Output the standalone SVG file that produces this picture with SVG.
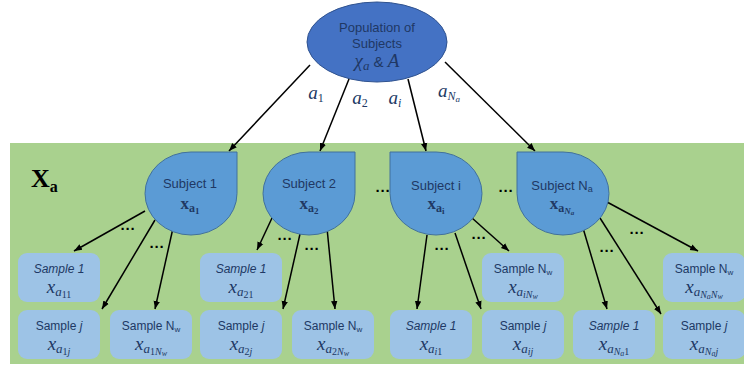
<svg xmlns="http://www.w3.org/2000/svg" width="744" height="367" viewBox="0 0 744 367">
<style>
.lbl{font-family:"Liberation Sans","Open Sans",sans-serif;fill:#203864;text-anchor:middle}
.m{font-family:"Liberation Serif","DejaVu Serif",serif;font-style:italic;fill:#203864;text-anchor:middle}
.mb{font-family:"Liberation Serif","DejaVu Serif",serif;font-weight:bold;fill:#203864;text-anchor:middle}
.up{font-style:normal}
.subj{fill:#5b9bd5;stroke:#41719c;stroke-width:1}
.smp{fill:#9dc3e6;stroke:none}
.con line{stroke:#000;stroke-width:1.5;marker-end:url(#ah)}
.dots{font-family:"Liberation Sans",sans-serif;font-weight:bold;font-size:15px;fill:#000;text-anchor:middle}
</style>
<defs>
<marker id="ah" viewBox="0 0 10 10" refX="10" refY="5" markerWidth="8" markerHeight="8" markerUnits="userSpaceOnUse" orient="auto">
<path d="M0,1 L10,5 L0,9 z" fill="#000"/>
</marker>
</defs>
<rect x="10" y="143" width="740" height="221" fill="#a9d18e"/>
<text x="31" y="187" font-family="Liberation Serif,serif" font-weight="bold" font-size="26" fill="#000">X<tspan font-size="16" dy="5">a</tspan></text>

<g id="population">
<ellipse cx="377" cy="42" rx="70" ry="40" fill="#4472c4" stroke="#2f528f" stroke-width="1"/>
<text class="lbl" x="377" y="32" font-size="13">Population of</text>
<text class="lbl" x="377" y="48" font-size="13">Subjects</text>
<text x="377" y="67" class="lbl" font-size="15"><tspan class="m" font-size="19">χ</tspan><tspan class="m" font-size="13" dy="3">a</tspan><tspan dy="-3" font-size="15"> &amp; </tspan><tspan class="m" font-size="19">A</tspan></text>
</g>

<g class="con">
<line x1="310" y1="65" x2="229" y2="151"/>
<line x1="349" y1="79" x2="320" y2="151"/>
<line x1="408" y1="79" x2="426" y2="151"/>
<line x1="445" y1="62" x2="535" y2="151"/>
<line x1="145" y1="211" x2="74" y2="251"/>
<line x1="155" y1="220" x2="102" y2="309"/>
<line x1="173" y1="228" x2="155" y2="309"/>
<line x1="272" y1="218" x2="257" y2="250"/>
<line x1="300" y1="234" x2="283" y2="309"/>
<line x1="327" y1="228" x2="335" y2="309"/>
<line x1="427" y1="235" x2="417" y2="309"/>
<line x1="455" y1="233" x2="481" y2="309"/>
<line x1="472" y1="218" x2="509" y2="251"/>
<line x1="583" y1="228" x2="607" y2="309"/>
<line x1="600" y1="218" x2="661" y2="314"/>
<line x1="607" y1="202" x2="698" y2="251"/>
</g>
<g id="arrow-labels">
<text class="m" x="316" y="99" font-size="19">a<tspan class="up" font-size="12" dy="3">1</tspan></text>
<text class="m" x="360" y="104" font-size="19">a<tspan class="up" font-size="12" dy="3">2</tspan></text>
<text class="m" x="395" y="104" font-size="19">a<tspan font-size="12" dy="3">i</tspan></text>
<text class="m" x="449" y="97" font-size="19">a<tspan font-size="12" dy="3">N</tspan><tspan font-size="9" dy="2">a</tspan></text>
</g>
<g id="dots">
<text class="dots" x="128" y="234">···</text>
<text class="dots" x="157" y="252">···</text>
<text class="dots" x="285" y="244">···</text>
<text class="dots" x="312" y="254">···</text>
<text class="dots" x="383" y="196">···</text>
<text class="dots" x="506" y="196">···</text>
<text class="dots" x="442" y="254">···</text>
<text class="dots" x="479" y="243">···</text>
<text class="dots" x="607" y="256">···</text>
<text class="dots" x="637" y="238">···</text>
</g>

<g id="subject1">
<path class="subj" d="M191,152 L237,152 L237,193.5 A46,41.5 0 1 1 191,152 Z"/>
<text class="lbl" x="190" y="188" font-size="13">Subject 1</text>
<text class="mb" x="190" y="209" font-size="17">x<tspan font-size="12" dy="3">a</tspan><tspan font-size="9" dy="2">1</tspan></text>
</g>
<g id="subject2">
<path class="subj" d="M309,152 L355,152 L355,193.5 A46,41.5 0 1 1 309,152 Z"/>
<text class="lbl" x="309" y="188" font-size="13">Subject 2</text>
<text class="mb" x="309" y="209" font-size="17">x<tspan font-size="12" dy="3">a</tspan><tspan font-size="9" dy="2">2</tspan></text>
</g>
<g id="subjecti">
<path class="subj" d="M436,152 L390,152 L390,193.5 A46,41.5 0 1 0 436,152 Z"/>
<text class="lbl" x="436" y="190" font-size="13">Subject i</text>
<text class="mb" x="436" y="209" font-size="17">x<tspan font-size="12" dy="3">a</tspan><tspan font-size="9" dy="2">i</tspan></text>
</g>
<g id="subjectNa">
<path class="subj" d="M563,152 L517,152 L517,193.5 A46,41.5 0 1 0 563,152 Z"/>
<text class="lbl" x="562" y="190" font-size="13">Subject N<tspan font-size="9" dy="2">a</tspan></text>
<text class="mb" x="562" y="209" font-size="17">x<tspan font-size="12" dy="3">a</tspan><tspan font-size="9" dy="2" font-style="italic">N</tspan><tspan font-size="7" dy="1" font-style="italic">a</tspan></text>
</g>

<g id="s1-1">
<rect class="smp" x="18" y="253" width="82" height="49" rx="9"/>
<text class="lbl" x="59" y="273" font-size="12" font-style="italic">Sample 1</text>
<text class="m" x="59" y="293" font-size="19">x<tspan font-size="13" dy="3">a</tspan><tspan class="up" font-size="10" dy="2">11</tspan></text>
</g>
<g id="s1-j">
<rect class="smp" x="18" y="310" width="82" height="49" rx="9"/>
<text class="lbl" x="59" y="330" font-size="12">Sample <tspan font-style="italic">j</tspan></text>
<text class="m" x="59" y="350" font-size="19">x<tspan font-size="13" dy="3">a</tspan><tspan class="up" font-size="10" dy="2">1</tspan><tspan font-size="10">j</tspan></text>
</g>
<g id="s1-Nw">
<rect class="smp" x="110" y="310" width="82" height="49" rx="9"/>
<text class="lbl" x="151" y="330" font-size="12">Sample N<tspan font-size="8" dy="2">w</tspan></text>
<text class="m" x="151" y="350" font-size="19">x<tspan font-size="13" dy="3">a</tspan><tspan class="up" font-size="10" dy="2">1</tspan><tspan font-size="10">N</tspan><tspan font-size="8" dy="1">w</tspan></text>
</g>
<g id="s2-1">
<rect class="smp" x="200" y="253" width="82" height="49" rx="9"/>
<text class="lbl" x="241" y="273" font-size="12" font-style="italic">Sample 1</text>
<text class="m" x="241" y="293" font-size="19">x<tspan font-size="13" dy="3">a</tspan><tspan class="up" font-size="10" dy="2">21</tspan></text>
</g>
<g id="s2-j">
<rect class="smp" x="200" y="310" width="82" height="49" rx="9"/>
<text class="lbl" x="241" y="330" font-size="12">Sample <tspan font-style="italic">j</tspan></text>
<text class="m" x="241" y="350" font-size="19">x<tspan font-size="13" dy="3">a</tspan><tspan class="up" font-size="10" dy="2">2</tspan><tspan font-size="10">j</tspan></text>
</g>
<g id="s2-Nw">
<rect class="smp" x="292" y="310" width="82" height="49" rx="9"/>
<text class="lbl" x="333" y="330" font-size="12">Sample N<tspan font-size="8" dy="2">w</tspan></text>
<text class="m" x="333" y="350" font-size="19">x<tspan font-size="13" dy="3">a</tspan><tspan class="up" font-size="10" dy="2">2</tspan><tspan font-size="10">N</tspan><tspan font-size="8" dy="1">w</tspan></text>
</g>
<g id="si-Nw">
<rect class="smp" x="482" y="253" width="82" height="49" rx="9"/>
<text class="lbl" x="523" y="273" font-size="12">Sample N<tspan font-size="8" dy="2">w</tspan></text>
<text class="m" x="523" y="293" font-size="19">x<tspan font-size="13" dy="3">a</tspan><tspan font-size="10" dy="2">iN</tspan><tspan font-size="8" dy="1">w</tspan></text>
</g>
<g id="si-1">
<rect class="smp" x="390" y="310" width="82" height="49" rx="9"/>
<text class="lbl" x="431" y="330" font-size="12" font-style="italic">Sample 1</text>
<text class="m" x="431" y="350" font-size="19">x<tspan font-size="13" dy="3">a</tspan><tspan font-size="10" dy="2">i</tspan><tspan class="up" font-size="10">1</tspan></text>
</g>
<g id="si-j">
<rect class="smp" x="482" y="310" width="82" height="49" rx="9"/>
<text class="lbl" x="523" y="330" font-size="12">Sample <tspan font-style="italic">j</tspan></text>
<text class="m" x="523" y="350" font-size="19">x<tspan font-size="13" dy="3">a</tspan><tspan font-size="10" dy="2">ij</tspan></text>
</g>
<g id="sNa-Nw">
<rect class="smp" x="663" y="253" width="82" height="49" rx="9"/>
<text class="lbl" x="704" y="273" font-size="12">Sample N<tspan font-size="8" dy="2">w</tspan></text>
<text class="m" x="704" y="293" font-size="19">x<tspan font-size="13" dy="3">a</tspan><tspan font-size="10" dy="2">N</tspan><tspan font-size="8" dy="1">a</tspan><tspan font-size="10" dy="-1">N</tspan><tspan font-size="8" dy="1">w</tspan></text>
</g>
<g id="sNa-1">
<rect class="smp" x="573" y="310" width="82" height="49" rx="9"/>
<text class="lbl" x="614" y="330" font-size="12" font-style="italic">Sample 1</text>
<text class="m" x="614" y="350" font-size="19">x<tspan font-size="13" dy="3">a</tspan><tspan font-size="10" dy="2">N</tspan><tspan font-size="8" dy="1">a</tspan><tspan class="up" font-size="10" dy="-1">1</tspan></text>
</g>
<g id="sNa-j">
<rect class="smp" x="663" y="310" width="82" height="49" rx="9"/>
<text class="lbl" x="704" y="330" font-size="12">Sample <tspan font-style="italic">j</tspan></text>
<text class="m" x="704" y="350" font-size="19">x<tspan font-size="13" dy="3">a</tspan><tspan font-size="10" dy="2">N</tspan><tspan font-size="8" dy="1">a</tspan><tspan font-size="10" dy="-1">j</tspan></text>
</g>
</svg>
